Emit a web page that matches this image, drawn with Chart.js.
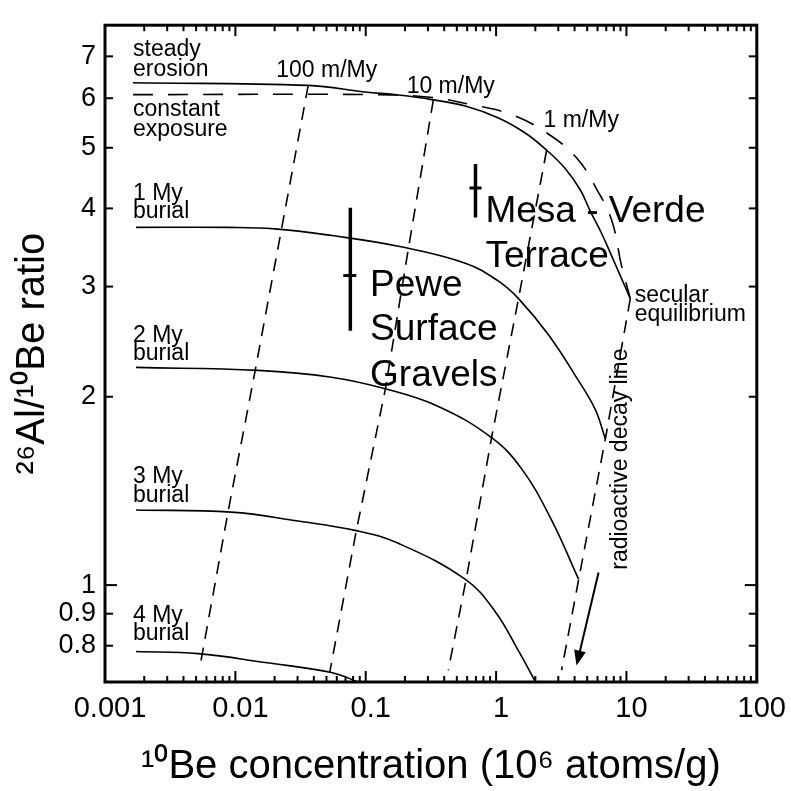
<!DOCTYPE html>
<html>
<head>
<meta charset="utf-8">
<script src="https://cdn.jsdelivr.net/npm/chart.js@4.4.1/dist/chart.umd.min.js"></script>
<style>
  html, body { margin: 0; padding: 0; background: #fff; }
  #wrap { width: 791px; height: 791px; }
</style>
</head>
<body>
<div id="wrap"><canvas id="chart-area"></canvas></div>
<script>
var xTicks = [0.001, 0.01, 0.1, 1, 10, 100];
var yTicks = [0.8, 0.9, 1, 2, 3, 4, 5, 6, 7];

// steady erosion (solid) and constant exposure (dashed)
var steadyX = [0.00164, 0.0362, 0.0989, 0.178, 0.321, 0.580, 1.043, 1.673, 2.38, 3.40, 4.43, 5.28, 6.48, 7.74, 8.98, 10.7];
var steadyY = [6.35, 6.29, 6.14, 6.07, 5.97, 5.83, 5.58, 5.28, 4.98, 4.63, 4.28, 3.96, 3.64, 3.35, 3.12, 2.87];
var exposureX = [0.00164, 0.125, 0.312, 0.644, 1.28, 2.45, 4.17, 6.04, 7.74, 9.14, 10.7];
var exposureY = [6.08, 6.08, 6.02, 5.86, 5.66, 5.28, 4.81, 4.26, 3.82, 3.25, 2.87];

// burial curves
var burial1X = [0.00173, 0.00881, 0.0201, 0.0547, 0.178, 0.580, 1.043, 1.486, 2.53, 4.30, 5.77, 6.89];
var burial1Y = [3.73, 3.73, 3.71, 3.62, 3.48, 3.27, 3.06, 2.87, 2.51, 2.12, 1.907, 1.712];
var burial2X = [0.00173, 0.0150, 0.0545, 0.1416, 0.361, 0.923, 1.567, 2.66, 4.30];
var burial2Y = [2.228, 2.204, 2.149, 2.059, 1.930, 1.720, 1.535, 1.271, 1.021];
var burial3X = [0.00173, 0.00929, 0.0303, 0.0847, 0.178, 0.582, 0.989, 1.486, 2.01];
var burial3Y = [1.318, 1.308, 1.266, 1.222, 1.166, 1.021, 0.906, 0.785, 0.700];
var burial4X = [0.00173, 0.00518, 0.01694, 0.0545, 0.0877];
var burial4Y = [0.783, 0.777, 0.752, 0.725, 0.700];

// erosion rate lines and decay line (dashed)
var rate100X = [0.0362, 0.0225, 0.0142, 0.00881, 0.00537];
var rate100Y = [6.29, 3.69, 2.204, 1.313, 0.744];
var rate10X = [0.330, 0.212, 0.1416, 0.0847, 0.0530];
var rate10Y = [5.96, 3.44, 2.059, 1.222, 0.726];
var rate1X = [2.44, 1.486, 0.923, 0.593, 0.430];
var rate1Y = [4.95, 2.87, 1.72, 1.028, 0.731];
var decayX = [10.7, 6.89, 4.30, 3.18];
var decayY = [2.87, 1.712, 1.021, 0.731];

// samples with error bars
var sampleX = [0.0762, 0.695];
var sampleY = [3.125, 4.31];
var sampleXLo = [0.0673, 0.625];
var sampleXHi = [0.0847, 0.773];
var sampleYLo = [2.55, 3.87];
var sampleYHi = [4.01, 4.71];

var FONT = '"Liberation Sans", Arial, Helvetica, sans-serif';

// text notes placed in data units: [text, x, y(baseline)]
var smallNotes = [
    ['steady', 0.00164, 7.00], ['erosion', 0.00164, 6.52],
    ['constant', 0.00164, 5.61], ['exposure', 0.00164, 5.23],
    ['1 My', 0.00164, 4.12], ['burial', 0.00164, 3.86],
    ['2 My', 0.00164, 2.45], ['burial', 0.00164, 2.29],
    ['3 My', 0.00164, 1.456], ['burial', 0.00164, 1.36],
    ['4 My', 0.00164, 0.874], ['burial', 0.00164, 0.817],
    ['100 m/My', 0.0206, 6.49], ['10 m/My', 0.206, 6.12], ['1 m/My', 2.31, 5.39],
    ['secular', 11.56, 2.83], ['equilibrium', 11.56, 2.64]
];
var bigNotes = [
    ['Mesa - Verde', 0.829, 3.80], ['Terrace', 0.829, 3.22],
    ['Pewe', 0.108, 2.90], ['Surface', 0.108, 2.46], ['Gravels', 0.108, 2.08]
];
var decayNote = ['radioactive decay line', 10.03, 1.058];
var arrowFrom = [6.11, 1.047];
var arrowTo = [4.14, 0.744];

function series(xs, ys, dash, width, tension) {
    return {
        data: xs.map(function(x, i) { return {x: x, y: ys[i]}; }),
        showLine: true,
        borderColor: '#000',
        borderWidth: width || 1.6,
        borderDash: dash || [],
        pointRadius: 0,
        tension: tension || 0,
        fill: false
    };
}

var datasets = [
    series(steadyX, steadyY, [], 1.6, 0.4),
    series(exposureX, exposureY, [20, 15], 1.6, 0.4),
    series(burial1X, burial1Y, [], 1.6, 0.4),
    series(burial2X, burial2Y, [], 1.6, 0.4),
    series(burial3X, burial3Y, [], 1.6, 0.4),
    series(burial4X, burial4Y, [], 1.6, 0.4),
    series(rate100X, rate100Y, [13, 9]),
    series(rate10X, rate10Y, [13, 9]),
    series(rate1X, rate1Y, [13, 9]),
    series(decayX, decayY, [13, 9])
];
sampleX.forEach(function(x, i) {
    datasets.push(series([x, x], [sampleYLo[i], sampleYHi[i]], [], 3.5));
    datasets.push(series([sampleXLo[i], sampleXHi[i]], [sampleY[i], sampleY[i]], [], 3));
});

var frameAndNotes = {
    id: 'frameAndNotes',
    afterDatasetsDraw: function(chart) {
        var ctx = chart.ctx, a = chart.chartArea;
        var sx = chart.scales.x, sy = chart.scales.y;
        function line(x1, y1, x2, y2) {
            ctx.beginPath(); ctx.moveTo(x1, y1); ctx.lineTo(x2, y2); ctx.stroke();
        }
        ctx.save();
        ctx.strokeStyle = '#000';
        ctx.fillStyle = '#000';
        ctx.setLineDash([]);

        // inward ticks on all four sides
        ctx.lineWidth = 2;
        for (var d = -3; d < 2; d++) {
            for (var m = 1; m <= 9; m++) {
                var px = sx.getPixelForValue(m * Math.pow(10, d));
                var len = m === 1 ? 11 : 6;
                line(px, a.bottom, px, a.bottom - len);
                line(px, a.top, px, a.top + len);
            }
        }
        yTicks.forEach(function(v) {
            var py = sy.getPixelForValue(v);
            var len = v === 1 ? 12 : 8;
            line(a.left, py, a.left + len, py);
            line(a.right, py, a.right - len, py);
        });

        // frame
        ctx.lineWidth = 3;
        ctx.strokeRect(a.left, a.top, a.right - a.left, a.bottom - a.top);

        // arrow along the decay line
        var x0 = sx.getPixelForValue(arrowFrom[0]), y0 = sy.getPixelForValue(arrowFrom[1]);
        var x1 = sx.getPixelForValue(arrowTo[0]), y1 = sy.getPixelForValue(arrowTo[1]);
        var ang = Math.atan2(y1 - y0, x1 - x0);
        ctx.lineWidth = 2;
        line(x0, y0, x1 - 12 * Math.cos(ang), y1 - 12 * Math.sin(ang));
        ctx.beginPath();
        ctx.moveTo(x1, y1);
        ctx.lineTo(x1 - 15 * Math.cos(ang) + 6 * Math.sin(ang), y1 - 15 * Math.sin(ang) - 6 * Math.cos(ang));
        ctx.lineTo(x1 - 15 * Math.cos(ang) - 6 * Math.sin(ang), y1 - 15 * Math.sin(ang) + 6 * Math.cos(ang));
        ctx.closePath();
        ctx.fill();

        // text notes
        ctx.textAlign = 'left';
        ctx.textBaseline = 'alphabetic';
        ctx.font = '23px ' + FONT;
        smallNotes.forEach(function(n) {
            ctx.fillText(n[0], sx.getPixelForValue(n[1]), sy.getPixelForValue(n[2]));
        });
        ctx.font = '37px ' + FONT;
        bigNotes.forEach(function(n) {
            ctx.fillText(n[0], sx.getPixelForValue(n[1]), sy.getPixelForValue(n[2]));
        });
        ctx.font = '23px ' + FONT;
        ctx.translate(sx.getPixelForValue(decayNote[1]), sy.getPixelForValue(decayNote[2]));
        ctx.rotate(-Math.PI / 2);
        ctx.fillText(decayNote[0], 0, 0);
        ctx.restore();
    }
};

var config = {
    type: 'scatter',
    data: { datasets: datasets },
    options: {
        responsive: true,
        maintainAspectRatio: false,
        animation: false,
        devicePixelRatio: 1,
        layout: { padding: { top: 10, right: 33, left: 0, bottom: 0 } },
        plugins: {
            legend: { display: false },
            tooltip: { enabled: false }
        },
        scales: {
            x: {
                type: 'logarithmic',
                min: 0.001,
                max: 100,
                grid: { display: false, drawTicks: false },
                border: { display: false },
                afterBuildTicks: function(scale) {
                    scale.ticks = xTicks.map(function(v) { return {value: v}; });
                },
                afterFit: function(scale) { scale.height = 109; },
                ticks: {
                    autoSkip: false,
                    maxRotation: 0,
                    padding: 10,
                    labelOffset: 5,
                    color: '#000',
                    font: { size: 29, family: FONT },
                    callback: function(v) { return String(v); }
                },
                title: {
                    display: true,
                    text: '\u00b9\u2070Be concentration (10\u2076 atoms/g)',
                    color: '#000',
                    font: { size: 40, family: FONT },
                    padding: { top: 0, bottom: 0 }
                }
            },
            y: {
                type: 'logarithmic',
                min: 0.7,
                max: 7.85,
                grid: { display: false, drawTicks: false },
                border: { display: false },
                afterBuildTicks: function(scale) {
                    scale.ticks = yTicks.map(function(v) { return {value: v}; });
                },
                afterFit: function(scale) { scale.width = 105; },
                ticks: {
                    autoSkip: false,
                    padding: 9,
                    color: '#000',
                    font: { size: 27, family: FONT },
                    callback: function(v) { return String(v); }
                },
                title: {
                    display: true,
                    text: '\u00b2\u2076Al/\u00b9\u2070Be ratio',
                    color: '#000',
                    font: { size: 40, family: FONT },
                    padding: { top: 9, bottom: 0 }
                }
            }
        }
    },
    plugins: [frameAndNotes]
};

window.onload = function() {
    var ctx = document.getElementById('chart-area').getContext('2d');
    window.myChart = new Chart(ctx, config);
};
</script>
</body>
</html>
